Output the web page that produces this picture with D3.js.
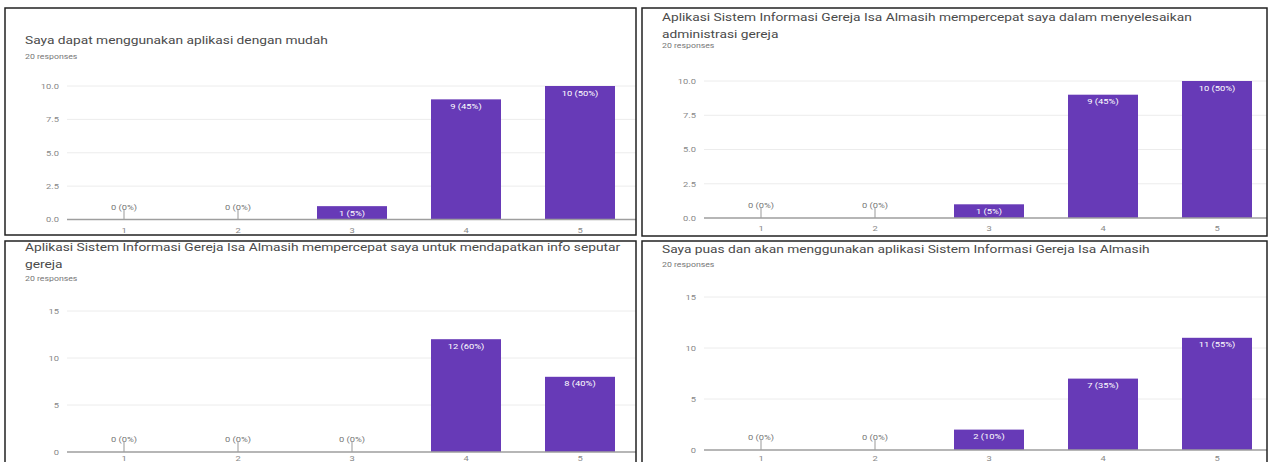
<!DOCTYPE html>
<html><head><meta charset="utf-8">
<script src="https://cdn.jsdelivr.net/npm/d3@7"></script>
<style>
body{margin:0;background:#fff}
svg{display:block}
text{font-family:Roboto, Arial, sans-serif}
</style>
</head><body>
<svg id="c" width="1270" height="462"></svg>
<script>
// ---------- data ----------
const categories = ["1", "2", "3", "4", "5"];
const q1Values = [0, 0, 1, 9, 10];
const q2Values = [0, 0, 1, 9, 10];
const q3Values = [0, 0, 0, 12, 8];
const q4Values = [0, 0, 2, 7, 11];
const q1Title = ["Saya dapat menggunakan aplikasi dengan mudah"];
const q2Title = ["Aplikasi Sistem Informasi Gereja Isa Almasih mempercepat saya dalam menyelesaikan", "administrasi gereja"];
const q3Title = ["Aplikasi Sistem Informasi Gereja Isa Almasih mempercepat saya untuk mendapatkan info seputar", "gereja"];
const q4Title = ["Saya puas dan akan menggunakan aplikasi Sistem Informasi Gereja Isa Almasih"];
const responsesLabel = "20 responses";
const totalResponses = 20;
const ticksTen = [0, 2.5, 5, 7.5, 10];
const ticksFifteen = [0, 5, 10, 15];

// ---------- layout ----------
const SX = 1.25; // horizontal text stretch of the screenshot
const BAR = "#673ab7";
const H = 462;
const panels = [
  {values: q1Values, title: q1Title, ticks: ticksTen, fmt: d3.format(".1f"), max: 10,
   box: [5, 8, 636, 235], titleY: [44], respY: 59, yTop: 86, yBase: 219.5},
  {values: q2Values, title: q2Title, ticks: ticksTen, fmt: d3.format(".1f"), max: 10,
   box: [642, 8, 1267, 236], titleY: [21, 38], respY: 48, yTop: 81, yBase: 218},
  {values: q3Values, title: q3Title, ticks: ticksFifteen, fmt: d3.format("d"), max: 15,
   box: [5, 241, 636, 480], titleY: [251, 268], respY: 281, yTop: 311, yBase: 452},
  {values: q4Values, title: q4Title, ticks: ticksFifteen, fmt: d3.format("d"), max: 15,
   box: [642, 241, 1267, 480], titleY: [253], respY: 267, yTop: 297, yBase: 450}
];

const svg = d3.select("#c");
const defs = svg.append("defs");

function txt(g, x, y, s, size, fill, anchor) {
  return g.append("text")
    .attr("transform", `translate(${x},${y}) scale(${SX},1)`)
    .attr("font-size", size)
    .attr("fill", fill)
    .attr("text-anchor", anchor || "start")
    .text(s);
}

panels.forEach((p, i) => {
  const [x0, y0, x1, y1] = p.box;
  defs.append("clipPath").attr("id", "clip" + i)
    .append("rect").attr("x", x0).attr("y", y0).attr("width", x1 - x0).attr("height", y1 - y0);
  const g = svg.append("g").attr("clip-path", `url(#clip${i})`);

  const px = x0 + 62;
  const x = d3.scaleBand().domain(categories).range([px, px + 570])
    .paddingInner(0.386).paddingOuter(0.193);
  const y = d3.scaleLinear().domain([0, p.max]).range([p.yBase, p.yTop]);

  // titles
  p.title.forEach((t, k) => txt(g, x0 + 20, p.titleY[k], t, 11, "#4a4a4a"));
  txt(g, x0 + 20, p.respY, responsesLabel, 7, "#777");

  // grid lines
  g.append("g").selectAll("line").data(p.ticks.filter(d => d > 0)).join("line")
    .attr("x1", px).attr("x2", x1).attr("y1", d => y(d)).attr("y2", d => y(d))
    .attr("stroke", "#ececec").attr("stroke-width", 1);

  // y axis labels
  const yAxis = d3.axisLeft(y).tickValues(p.ticks).tickFormat(p.fmt).tickSize(0).tickPadding(0);
  const ya = g.append("g").attr("transform", `translate(${px - 8},0)`).call(yAxis);
  ya.select(".domain").remove();
  ya.selectAll(".tick text").attr("font-size", 7.5).attr("fill", "#888")
    .attr("font-family", "Roboto, Arial, sans-serif")
    .attr("x", 0).attr("dy", "0.32em")
    .attr("transform", `scale(${SX},1)`);

  // bars
  const data = categories.map((c, k) => ({c, v: p.values[k]}));
  g.append("g").selectAll("rect").data(data.filter(d => d.v > 0)).join("rect")
    .attr("x", d => x(d.c)).attr("width", x.bandwidth())
    .attr("y", d => y(d.v)).attr("height", d => y(0) - y(d.v))
    .attr("fill", BAR);

  // zero stems
  g.append("g").selectAll("line").data(data.filter(d => d.v === 0)).join("line")
    .attr("x1", d => x(d.c) + x.bandwidth() / 2).attr("x2", d => x(d.c) + x.bandwidth() / 2)
    .attr("y1", y(0) - 10).attr("y2", y(0))
    .attr("stroke", "#999").attr("stroke-width", 1);

  // baseline / x axis
  const tickOff = Math.min(13, H - 1 - y(0));
  const xAxis = d3.axisBottom(x).tickSize(0).tickPadding(0);
  const xa = g.append("g").attr("transform", `translate(0,${y(0)})`).call(xAxis);
  xa.select(".domain").remove();
  xa.selectAll(".tick text").attr("font-size", 7.5).attr("fill", "#888")
    .attr("font-family", "Roboto, Arial, sans-serif")
    .attr("y", 0).attr("dy", 0)
    .attr("transform", `translate(0,${tickOff}) scale(${SX},1)`);
  g.append("line").attr("x1", px).attr("x2", x1).attr("y1", y(0)).attr("y2", y(0))
    .attr("stroke", "#9e9e9e").attr("stroke-width", 1.5);

  // value labels
  data.forEach(d => {
    const cx = x(d.c) + x.bandwidth() / 2;
    const label = `${d.v} (${Math.round(d.v / totalResponses * 100)}%)`;
    if (d.v > 0) {
      txt(g, cx, y(d.v) + 9.5, label, 7.5, "#fff", "middle");
    } else {
      txt(g, cx, y(0) - 10, label, 7.5, "#777", "middle");
    }
  });

  // border
  svg.append("rect").attr("x", x0).attr("y", y0).attr("width", x1 - x0).attr("height", y1 - y0)
    .attr("fill", "none").attr("stroke", "#222").attr("stroke-width", 1.5);
});
</script>
</body></html>
